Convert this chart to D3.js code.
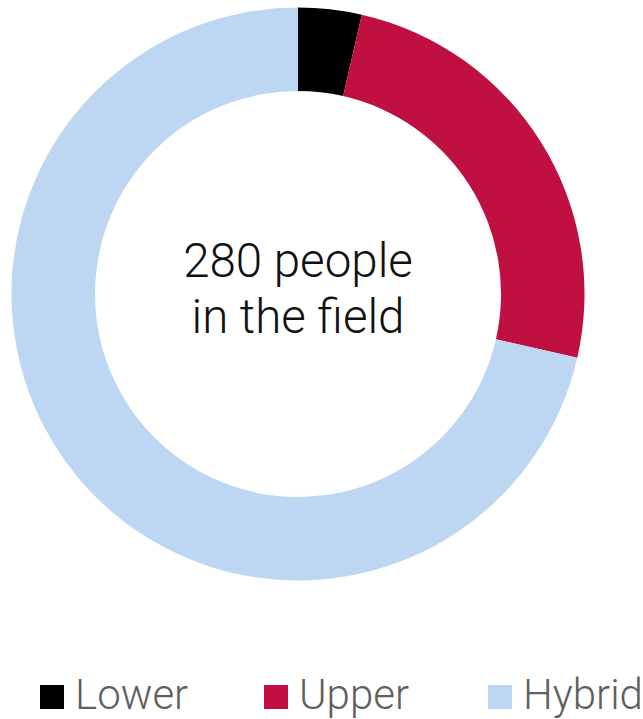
<!DOCTYPE html>
<html>
<head>
<meta charset="utf-8">
<script src="https://cdn.jsdelivr.net/npm/d3@7"></script>
<style>
  html, body { margin: 0; padding: 0; background: #fff; }
  svg { display: block; font-family: Roboto, "Noto Sans", sans-serif; }
</style>
</head>
<body>
<svg id="chart" width="643" height="719"></svg>
<script>
// Field staff split by group
const categories = ["Lower", "Upper", "Hybrid"];
const values = [10, 70, 200];
const colors = ["#000000", "#C00F41", "#BDD7F2"];
const centerLines = ["280 people", "in the field"];

const svg = d3.select("#chart");
const cx = 298, cy = 294, outerR = 286.5, innerR = 203;

const color = d3.scaleOrdinal().domain(categories).range(colors);

const pie = d3.pie().sort(null).value(d => d.value);
const arc = d3.arc().innerRadius(innerR).outerRadius(outerR);

const data = categories.map((c, i) => ({ name: c, value: values[i] }));

const g = svg.append("g").attr("transform", `translate(${cx},${cy})`);
g.selectAll("path")
  .data(pie(data))
  .join("path")
  .attr("d", arc)
  .attr("fill", d => color(d.data.name));

// Center label
g.append("text")
  .attr("text-anchor", "middle")
  .attr("font-size", 47.5)
  .attr("font-weight", 300)
  .attr("fill", "#111")
  .selectAll("tspan")
  .data(centerLines)
  .join("tspan")
  .attr("x", 0)
  .attr("y", (d, i) => -17 + i * 56)
  .text(d => d);

// Legend
const lx = d3.scalePoint().domain(categories).range([40, 488]);
const legend = svg.append("g").attr("transform", "translate(0,685)");
const item = legend.selectAll("g")
  .data(categories)
  .join("g")
  .attr("transform", d => `translate(${lx(d)},0)`);
item.append("rect")
  .attr("width", 24)
  .attr("height", 24)
  .attr("fill", d => color(d));
item.append("text")
  .attr("x", 35)
  .attr("y", 24)
  .attr("font-size", 42)
  .attr("font-weight", 300)
  .attr("fill", "#5f5f5f")
  .text(d => d);
</script>
</body>
</html>
